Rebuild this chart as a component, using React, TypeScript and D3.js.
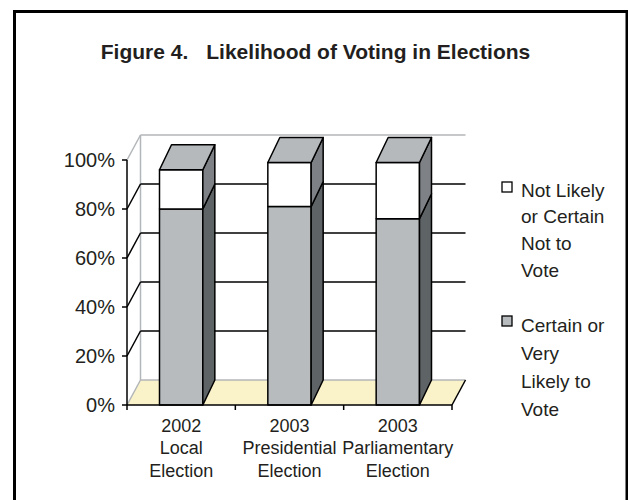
import React from "react";
import * as d3 from "d3";

const title = "Figure 4.   Likelihood of Voting in Elections";
const categories = ["2002 Local Election", "2003 Presidential Election", "2003 Parliamentary Election"];
const categoryLines = [
  ["2002", "Local", "Election"],
  ["2003", "Presidential", "Election"],
  ["2003", "Parliamentary", "Election"],
];
const certainValues = [80, 81, 76];
const notLikelyValues = [16, 18, 23];
const yTicks = [0, 20, 40, 60, 80, 100];
const legendNotLikely = ["Not Likely", "or Certain", "Not to", "Vote"];
const legendCertain = ["Certain or", "Very", "Likely to", "Vote"];

const FONT = "'Liberation Sans', Arial, Helvetica, sans-serif";

export default function App() {
  const x0 = 127, x1 = 452, yBase = 405, yTop = 160;
  const WDX = 13.5, WDY = -25; // wall depth
  const BDX = 12, BDY = -25; // bar depth
  const y = d3.scaleLinear().domain([0, 100]).range([yBase, yTop]);
  const x = d3.scaleBand<string>().domain(categories).range([x0, x1]).paddingInner(0.6).paddingOuter(0.3);
  const bw = x.bandwidth();
  const wallGray = "#B3B6B8";

  const poly = (pts: [number, number][]) => pts.map((p) => p.join(",")).join(" ");

  const bars = categories.map((c, i) => {
    const left = x(c)!;
    const right = left + bw;
    const yc = y(certainValues[i]);
    const yt = y(certainValues[i] + notLikelyValues[i]);
    return (
      <g key={c} stroke="#000" strokeWidth={1.5} strokeLinejoin="round">
        <rect x={left} y={yc} width={bw} height={yBase - yc} fill="#B7BBBE" />
        <rect x={left} y={yt} width={bw} height={yc - yt} fill="#FFFFFF" />
        <polygon points={poly([[right, yBase], [right + BDX, yBase + BDY], [right + BDX, yc + BDY], [right, yc]])} fill="#5E6366" />
        <polygon points={poly([[right, yc], [right + BDX, yc + BDY], [right + BDX, yt + BDY], [right, yt]])} fill="#7E8286" />
        <polygon points={poly([[left, yt], [right, yt], [right + BDX, yt + BDY], [left + BDX, yt + BDY]])} fill="#B5B9BC" />
      </g>
    );
  });

  return (
    <svg width={628} height={500} style={{ position: "absolute", left: 0, top: 0, background: "#fff" }}>
      <rect x={0} y={0} width={628} height={500} fill="#fff" />
      <rect x={14.5} y={11.5} width={612.5} height={600} fill="none" stroke="#000" strokeWidth={3} />
      <text x={315.5} y={59} textAnchor="middle" fontFamily={FONT} fontWeight="bold" fontSize={21} fill="#231F20">
        {title.split("   ").map((s, i) => (
          <tspan key={i} dx={i === 0 ? 0 : 18}>{s}</tspan>
        ))}
      </text>

      {/* floor */}
      <polygon points={poly([[x0, yBase], [x1, yBase], [x1 + WDX, yBase + WDY], [x0 + WDX, yBase + WDY]])} fill="#FAF2C9" stroke="none" />
      <line x1={x0} y1={yBase} x2={x0 + WDX} y2={yBase + WDY} stroke={wallGray} strokeWidth={1.5} />
      <line x1={x0 + WDX} y1={yBase + WDY} x2={x1 + WDX} y2={yBase + WDY} stroke={wallGray} strokeWidth={1.5} />
      <line x1={x1} y1={yBase} x2={x1 + WDX} y2={yBase + WDY} stroke="#000" strokeWidth={1.5} />

      {/* walls edges */}
      <line x1={x0 + WDX} y1={y(0) + WDY} x2={x0 + WDX} y2={y(100) + WDY} stroke={wallGray} strokeWidth={1.5} />
      <line x1={x0 + WDX} y1={y(100) + WDY} x2={x1 + WDX} y2={y(100) + WDY} stroke={wallGray} strokeWidth={1.5} />
      <line x1={x0} y1={y(100)} x2={x0 + WDX} y2={y(100) + WDY} stroke={wallGray} strokeWidth={1.5} />

      {/* gridlines */}
      {yTicks.filter((t) => t > 0 && t < 100).map((t) => (
        <g key={t} stroke="#000" strokeWidth={1.5}>
          <line x1={x0} y1={y(t)} x2={x0 + WDX} y2={y(t) + WDY} />
          <line x1={x0 + WDX} y1={y(t) + WDY} x2={x1 + WDX} y2={y(t) + WDY} />
        </g>
      ))}

      {bars}

      {/* axes */}
      <g stroke="#000" strokeWidth={1.5}>
        <line x1={x0} y1={yBase} x2={x0} y2={yTop} />
        {yTicks.map((t) => (
          <line key={t} x1={x0 - 5} y1={y(t)} x2={x0} y2={y(t)} />
        ))}
        <line x1={x0} y1={yBase} x2={x1} y2={yBase} />
        {[0, 1, 2, 3].map((k) => {
          const xx = k < 3 ? x(categories[k])! - (x.step() - bw) / 2 : x1;
          return <line key={k} x1={xx} y1={yBase} x2={xx} y2={yBase + 5} />;
        })}
      </g>

      {yTicks.map((t) => (
        <text key={t} x={115} y={y(t) + 7} textAnchor="end" fontFamily={FONT} fontSize={20} fill="#231F20">
          {t + "%"}
        </text>
      ))}

      {categories.map((c, i) => (
        <text key={c} textAnchor="middle" fontFamily={FONT} fontSize={18} fill="#231F20">
          {categoryLines[i].map((l, j) => (
            <tspan key={j} x={x(c)! + bw / 2} y={431.5 + j * 22.7}>{l}</tspan>
          ))}
        </text>
      ))}

      {/* legend */}
      <rect x={502} y={182} width={10} height={10} fill="#FFFFFF" stroke="#000" strokeWidth={1.3} />
      <text fontFamily={FONT} fontSize={19} fill="#231F20">
        {legendNotLikely.map((l, j) => (
          <tspan key={j} x={521} y={196.5 + j * 26.7}>{l}</tspan>
        ))}
      </text>
      <rect x={502} y={316} width={10} height={10} fill="#B7BBBE" stroke="#000" strokeWidth={1.3} />
      <text fontFamily={FONT} fontSize={19} fill="#231F20">
        {legendCertain.map((l, j) => (
          <tspan key={j} x={521} y={332 + j * 28}>{l}</tspan>
        ))}
      </text>
    </svg>
  );
}
